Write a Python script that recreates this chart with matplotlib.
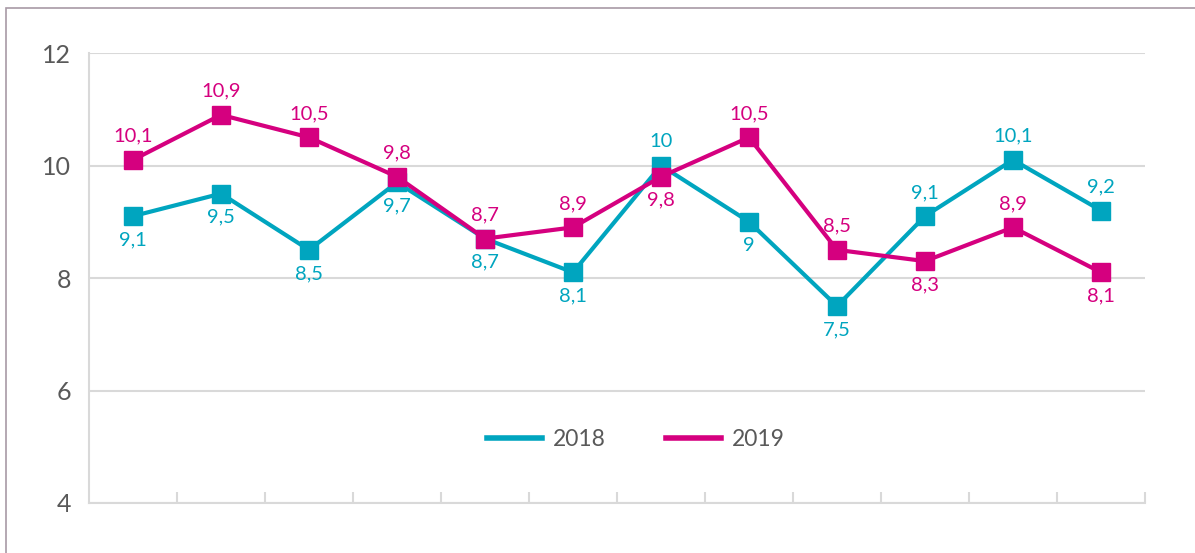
import matplotlib.pyplot as plt
from matplotlib.patches import Rectangle
from matplotlib.lines import Line2D

plt.rcParams['font.family'] = ['Lato', 'DejaVu Sans']

# données
x = list(range(12))
v2018 = [9.1, 9.5, 8.5, 9.7, 8.7, 8.1, 10, 9, 7.5, 9.1, 10.1, 9.2]
v2019 = [10.1, 10.9, 10.5, 9.8, 8.7, 8.9, 9.8, 10.5, 8.5, 8.3, 8.9, 8.1]
# position des étiquettes : 1 = dessus, -1 = dessous
pos2018 = [-1, -1, -1, -1, -1, -1, 1, -1, -1, 1, 1, 1]
pos2019 = [1, 1, 1, 1, 1, 1, -1, 1, 1, -1, 1, -1]

c18 = "#00A5BF"
c19 = "#D5007F"
grid_c = "#D9D9D9"
txt_c = "#595959"

fig = plt.figure(figsize=(11.95, 5.53), dpi=100)
fig.patches.append(Rectangle((6 / 1195, -0.1), 1.2, 1 - 8 / 553 + 0.1,
                             transform=fig.transFigure, fill=False,
                             edgecolor="#A89AA6", linewidth=1.2))
ax = fig.add_axes([89 / 1195, 50 / 553, 1056 / 1195, 450 / 553])

ax.plot(x, v2018, color=c18, lw=3, marker="s", ms=12.5, zorder=3)
ax.plot(x, v2019, color=c19, lw=3, marker="s", ms=12.5, zorder=4)

def fmt(v):
    s = ("%g" % v)
    return s.replace(".", ",")

for xs, ys, ps, col in [(x, v2018, pos2018, c18), (x, v2019, pos2019, c19)]:
    for xi, yi, p in zip(xs, ys, ps):
        ax.annotate(fmt(yi), (xi, yi), xytext=(0, 17 * p), textcoords="offset points",
                    ha="center", va="center", color=col, fontsize=14.5)

ax.set_xlim(-0.5, 11.5)
ax.set_ylim(4, 12)
ax.set_yticks([4, 6, 8, 10, 12])
ax.yaxis.grid(True, color=grid_c, lw=1.5)
ax.set_axisbelow(True)
ax.tick_params(axis="y", length=0, labelsize=18, labelcolor=txt_c, pad=13)
ax.set_xticks([i + 0.5 for i in range(12)])
ax.set_xticklabels([])
ax.tick_params(axis="x", direction="in", length=8, width=1.5, color=grid_c)
for s in ["top", "right"]:
    ax.spines[s].set_visible(False)
for s in ["left", "bottom"]:
    ax.spines[s].set_color(grid_c)
    ax.spines[s].set_linewidth(1.5)

handles = [Line2D([], [], color=c18, lw=4), Line2D([], [], color=c19, lw=4)]
ax.legend(handles, ["2018", "2019"], loc="center", bbox_to_anchor=(0.518, 0.14),
          ncol=2, frameon=False, fontsize=16.5, labelcolor=txt_c,
          handlelength=2.4, columnspacing=2.6, handletextpad=0.5)

fig.savefig("out.png", dpi=100)
